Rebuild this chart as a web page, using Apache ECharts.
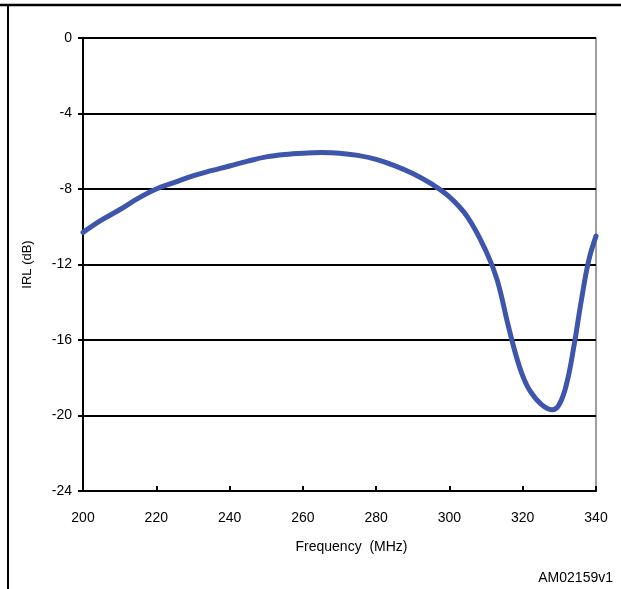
<!DOCTYPE html>
<html>
<head>
<meta charset="utf-8">
<script src="https://cdn.jsdelivr.net/npm/echarts@6/dist/echarts.min.js"></script>
<style>html,body{margin:0;padding:0;background:#fff}#c{width:621px;height:589px}</style>
</head>
<body>
<div id="c"></div>
<script>
const freq = [200,205,210,215,220,225,230,235,240,245,250,255,260,265,270,275,280,285,290,295,300,305,310,313,316,318,320,322,325,328,330,332,334,336,338,340];
const irl = [-10.3,-9.65,-9.1,-8.5,-8.0,-7.65,-7.3,-7.03,-6.78,-6.52,-6.3,-6.17,-6.1,-6.07,-6.1,-6.22,-6.43,-6.76,-7.18,-7.72,-8.42,-9.5,-11.3,-12.8,-15.2,-16.7,-17.9,-18.7,-19.4,-19.7,-19.4,-18.3,-16.3,-13.9,-11.8,-10.5];
const xTicks = [200,220,240,260,280,300,320,340];
const yTicks = [0,-4,-8,-12,-16,-20,-24];

const chart = echarts.init(document.getElementById('c'), null, {renderer:'canvas'});
const font = 'Liberation Sans, Arial, sans-serif';
chart.setOption({
  animation:false,
  grid:{left:83,right:25,top:38,bottom:98,show:true,borderColor:'#808080',borderWidth:1.5,backgroundColor:'transparent'},
  xAxis:{type:'value',min:200,max:340,interval:20,
    name:'Frequency  (MHz)',nameLocation:'middle',nameGap:49,
    nameTextStyle:{fontFamily:font,fontSize:14,color:'#000',padding:[0,0,0,24]},
    axisLine:{onZero:false,lineStyle:{color:'#000',width:2}},
    axisTick:{inside:true,length:5,lineStyle:{color:'#000',width:2}},
    axisLabel:{fontFamily:font,fontSize:14,color:'#000',margin:20},
    splitLine:{show:false}},
  yAxis:{type:'value',min:-24,max:0,interval:4,
    name:'IRL (dB)',nameLocation:'middle',nameGap:49,
    nameTextStyle:{fontFamily:font,fontSize:13,color:'#000'},
    axisLine:{onZero:false,lineStyle:{color:'#000',width:2}},
    axisTick:{inside:false,length:5,lineStyle:{color:'#000',width:2}},
    axisLabel:{fontFamily:font,fontSize:14,color:'#000',margin:11},
    splitLine:{show:true,lineStyle:{color:'#000',width:2}}},
  series:[{type:'line',data:freq.map((f,i)=>[f,irl[i]]),smooth:0.4,showSymbol:false,
    lineStyle:{color:'#3d55ab',width:5,cap:'round'},clip:true}],
  graphic:[
    {type:'line',shape:{x1:0,y1:5,x2:621,y2:5},style:{stroke:'#000',lineWidth:2.5}},
    {type:'line',shape:{x1:8,y1:5,x2:8,y2:589},style:{stroke:'#000',lineWidth:2}},
    {type:'text',right:8,top:571,style:{text:'AM02159v1',font:'14px '+font,fill:'#000'}}
  ]
});
</script>
</body>
</html>
